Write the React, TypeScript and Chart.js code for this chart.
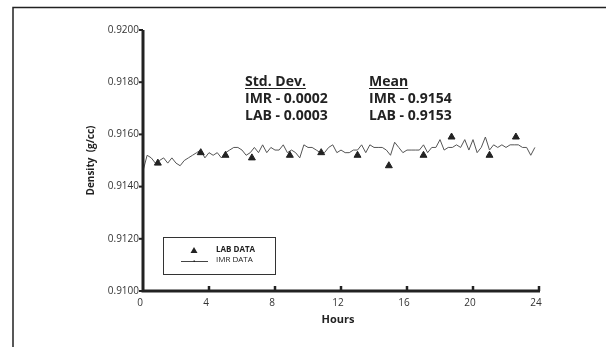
import { useEffect, useRef } from 'react';
import { Chart, registerables } from 'chart.js';

Chart.register(...registerables);

const X_MIN = 0;
const X_MAX = 24;
const X_STEP = 4;
const Y_MIN = 0.91;
const Y_MAX = 0.92;
const Y_STEP = 0.002;

const LAB_HOURS = [0.9, 3.5, 5.0, 6.6, 8.9, 10.8, 13.0, 14.9, 17.0, 18.7, 21.0, 22.6];
const LAB_DENSITY = [0.9149, 0.9153, 0.9152, 0.9151, 0.9152, 0.9153, 0.9152, 0.9148, 0.9152, 0.9159, 0.9152, 0.9159];

const IMR_INTERVAL_HOURS = 0.25;
const IMR_DENSITY = [
  0.9146, 0.9152, 0.9151, 0.9149, 0.9150, 0.9151, 0.9149, 0.9151, 0.9149, 0.9148,
  0.9150, 0.9151, 0.9152, 0.9153, 0.9154, 0.9151, 0.9153, 0.9152, 0.9153, 0.9151,
  0.9153, 0.9154, 0.9155, 0.9155, 0.9154, 0.9152, 0.9153, 0.9155, 0.9153, 0.9156,
  0.9153, 0.9155, 0.9154, 0.9154, 0.9156, 0.9153, 0.9154, 0.9153, 0.9151, 0.9156,
  0.9155, 0.9155, 0.9154, 0.9153, 0.9153, 0.9155, 0.9156, 0.9153, 0.9154, 0.9153,
  0.9153, 0.9154, 0.9154, 0.9156, 0.9153, 0.9156, 0.9155, 0.9155, 0.9155, 0.9154,
  0.9152, 0.9157, 0.9155, 0.9153, 0.9154, 0.9154, 0.9154, 0.9154, 0.9156, 0.9153,
  0.9155, 0.9155, 0.9158, 0.9154, 0.9155, 0.9155, 0.9156, 0.9155, 0.9158, 0.9154,
  0.9158, 0.9153, 0.9155, 0.9159, 0.9154, 0.9156, 0.9155, 0.9156, 0.9155, 0.9156,
  0.9156, 0.9156, 0.9155, 0.9155, 0.9152, 0.9155,
];

const X_TITLE = 'Hours';
const Y_TITLE = 'Density  (g/cc)';
const STD_HEADER = 'Std. Dev.';
const STD_LINES = ['IMR - 0.0002', 'LAB - 0.0003'];
const MEAN_HEADER = 'Mean';
const MEAN_LINES = ['IMR - 0.9154', 'LAB - 0.9153'];
const LEGEND_LAB = 'LAB DATA';
const LEGEND_IMR = 'IMR DATA';

const INK = '#222';

const decorPlugin = {
  id: 'decor',
  beforeDraw(chart: any) {
    const ctx = chart.ctx as CanvasRenderingContext2D;
    ctx.save();
    ctx.fillStyle = '#fff';
    ctx.fillRect(0, 0, chart.width, chart.height);
    ctx.strokeStyle = INK;
    ctx.lineWidth = 1.5;
    ctx.beginPath();
    ctx.moveTo(13, chart.height);
    ctx.lineTo(13, 7.5);
    ctx.lineTo(chart.width, 7.5);
    ctx.stroke();
    ctx.restore();
  },
  afterDraw(chart: any) {
    const ctx = chart.ctx as CanvasRenderingContext2D;
    const { left, right, top, bottom } = chart.chartArea;
    const xs = chart.scales.x;
    const ys = chart.scales.y;
    ctx.save();
    ctx.strokeStyle = INK;
    // axes
    ctx.lineWidth = 3;
    ctx.beginPath();
    ctx.moveTo(left, top);
    ctx.lineTo(left, bottom);
    ctx.lineTo(right + 1, bottom);
    ctx.stroke();
    // y ticks
    ctx.lineWidth = 2;
    ys.ticks.forEach((t: any) => {
      const y = ys.getPixelForValue(t.value);
      ctx.beginPath();
      ctx.moveTo(left - 4, y);
      ctx.lineTo(left, y);
      ctx.stroke();
    });
    // x ticks (inside)
    ctx.lineWidth = 2.5;
    xs.ticks.forEach((t: any) => {
      if (t.value === X_MIN) return;
      const x = xs.getPixelForValue(t.value);
      ctx.beginPath();
      ctx.moveTo(x, bottom);
      ctx.lineTo(x, bottom - 5);
      ctx.stroke();
    });

    // axis titles
    ctx.fillStyle = INK;
    ctx.font = 'bold 11px "Open Sans"';
    ctx.textAlign = 'center';
    ctx.textBaseline = 'middle';
    ctx.fillText(X_TITLE, (left + right) / 2 - 3, 320);
    ctx.save();
    ctx.translate(91, (top + bottom) / 2);
    ctx.rotate(-Math.PI / 2);
    ctx.font = 'bold 10px "Open Sans"';
    ctx.fillText(Y_TITLE, 0, 0);
    ctx.restore();

    // stats annotations
    ctx.textAlign = 'left';
    ctx.textBaseline = 'alphabetic';
    ctx.font = 'bold 14px "Open Sans"';
    const drawBlock = (x: number, header: string, lines: string[]) => {
      ctx.fillText(header, x, 86);
      const w = ctx.measureText(header).width;
      ctx.lineWidth = 1.2;
      ctx.beginPath();
      ctx.moveTo(x, 88.5);
      ctx.lineTo(x + w, 88.5);
      ctx.stroke();
      lines.forEach((l, i) => ctx.fillText(l, x, 103 + i * 17));
    };
    drawBlock(245, STD_HEADER, STD_LINES);
    drawBlock(369, MEAN_HEADER, MEAN_LINES);

    // legend box
    ctx.lineWidth = 1;
    ctx.strokeStyle = '#333';
    ctx.strokeRect(163.5, 237.5, 112, 37);
    // triangle
    ctx.fillStyle = INK;
    ctx.beginPath();
    ctx.moveTo(194, 247);
    ctx.lineTo(197.5, 253);
    ctx.lineTo(190.5, 253);
    ctx.closePath();
    ctx.fill();
    // line
    ctx.strokeStyle = '#444';
    ctx.lineWidth = 1;
    ctx.beginPath();
    ctx.moveTo(181, 261.5);
    ctx.lineTo(208, 261.5);
    ctx.stroke();
    ctx.fillRect(193.5, 260.5, 1.5, 1.5);
    ctx.fillStyle = INK;
    ctx.textBaseline = 'middle';
    ctx.font = 'bold 8px "Open Sans"';
    ctx.fillText(LEGEND_LAB, 216, 250);
    ctx.font = '8px "Open Sans"';
    ctx.fillText(LEGEND_IMR, 216, 260);
    ctx.restore();
  },
};

export default function App() {
  const ref = useRef<HTMLCanvasElement | null>(null);
  useEffect(() => {
    if (!ref.current) return;
    const imrPoints = IMR_DENSITY.map((v, i) => ({ x: i * IMR_INTERVAL_HOURS, y: v }));
    const labPoints = LAB_HOURS.map((h, i) => ({ x: h, y: LAB_DENSITY[i] }));
    const chart = new Chart(ref.current, {
      type: 'scatter',
      data: {
        datasets: [
          {
            label: LEGEND_LAB,
            data: labPoints,
            pointStyle: 'triangle',
            pointRadius: 4,
            backgroundColor: INK,
            borderColor: INK,
            borderWidth: 1,
          },
          {
            label: LEGEND_IMR,
            data: imrPoints,
            showLine: true,
            borderColor: '#555',
            borderWidth: 1,
            pointRadius: 0,
            tension: 0,
          } as any,
        ],
      },
      options: {
        animation: false,
        responsive: false,
        maintainAspectRatio: false,
        layout: { padding: { left: 0, top: 30, right: 67, bottom: 0 } },
        plugins: { legend: { display: false }, tooltip: { enabled: false } },
        scales: {
          x: {
            type: 'linear',
            min: X_MIN,
            max: X_MAX,
            afterFit: (s: any) => { s.height = 56; },
            grid: { display: true, drawOnChartArea: false, drawTicks: true, tickLength: 3, color: 'rgba(0,0,0,0)' },
            border: { display: false },
            ticks: {
              stepSize: X_STEP,
              padding: 3,
              labelOffset: -3,
              color: '#333',
              font: { family: '"Open Sans"', size: 10 },
              maxRotation: 0,
            },
          },
          y: {
            type: 'linear',
            min: Y_MIN,
            max: Y_MAX,
            afterFit: (s: any) => { s.width = 143; },
            grid: { display: true, drawOnChartArea: false, drawTicks: true, tickLength: 3, color: 'rgba(0,0,0,0)' },
            border: { display: false },
            ticks: {
              stepSize: Y_STEP,
              padding: 1,
              color: '#333',
              font: { family: '"Open Sans"', size: 10 },
              callback: (v: any) => Number(v).toFixed(4),
            },
          },
        },
      },
      plugins: [decorPlugin],
    });
    return () => chart.destroy();
  }, []);
  return (
    <div style={{ position: 'absolute', left: 0, top: 0, width: 606, height: 347 }}>
      <canvas ref={ref} width={606} height={347} style={{ width: 606, height: 347, display: 'block' }} />
    </div>
  );
}
